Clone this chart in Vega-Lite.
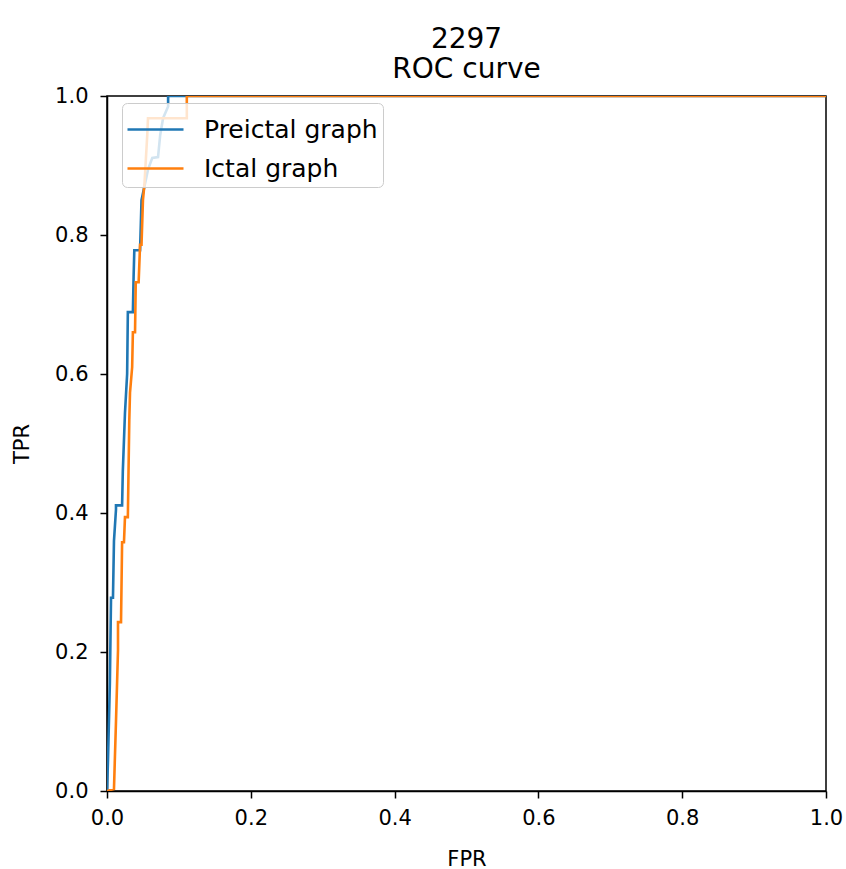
{
  "$schema": "https://vega.github.io/schema/vega-lite/v6.json",
  "width": 719,
  "height": 695,
  "autosize": {"type": "none"},
  "padding": {"left": 107, "top": 96, "right": 20, "bottom": 78},
  "background": "white",
  "title": {
    "text": ["2297", "ROC curve"],
    "fontSize": 28,
    "font": "DejaVu Sans",
    "fontWeight": "normal",
    "color": "black",
    "anchor": "middle",
    "offset": 1,
    "lineHeight": 30
  },
  "datasets": {
    "pre": [
      {"series": "Preictal graph", "fpr": 0, "tpr": 0},
      {"series": "Preictal graph", "fpr": 0.0014, "tpr": 0.045},
      {"series": "Preictal graph", "fpr": 0.004, "tpr": 0.155},
      {"series": "Preictal graph", "fpr": 0.0056, "tpr": 0.278},
      {"series": "Preictal graph", "fpr": 0.0083, "tpr": 0.278},
      {"series": "Preictal graph", "fpr": 0.0097, "tpr": 0.36},
      {"series": "Preictal graph", "fpr": 0.0125, "tpr": 0.405},
      {"series": "Preictal graph", "fpr": 0.0125, "tpr": 0.411},
      {"series": "Preictal graph", "fpr": 0.021, "tpr": 0.411},
      {"series": "Preictal graph", "fpr": 0.022, "tpr": 0.46},
      {"series": "Preictal graph", "fpr": 0.025, "tpr": 0.544},
      {"series": "Preictal graph", "fpr": 0.028, "tpr": 0.6},
      {"series": "Preictal graph", "fpr": 0.029, "tpr": 0.689},
      {"series": "Preictal graph", "fpr": 0.036, "tpr": 0.689},
      {"series": "Preictal graph", "fpr": 0.037, "tpr": 0.74},
      {"series": "Preictal graph", "fpr": 0.038, "tpr": 0.778},
      {"series": "Preictal graph", "fpr": 0.046, "tpr": 0.778},
      {"series": "Preictal graph", "fpr": 0.048, "tpr": 0.85},
      {"series": "Preictal graph", "fpr": 0.057, "tpr": 0.894},
      {"series": "Preictal graph", "fpr": 0.063, "tpr": 0.911},
      {"series": "Preictal graph", "fpr": 0.071, "tpr": 0.912},
      {"series": "Preictal graph", "fpr": 0.074, "tpr": 0.944},
      {"series": "Preictal graph", "fpr": 0.078, "tpr": 0.968},
      {"series": "Preictal graph", "fpr": 0.085, "tpr": 0.985},
      {"series": "Preictal graph", "fpr": 0.085, "tpr": 1.0},
      {"series": "Preictal graph", "fpr": 1.0, "tpr": 1.0}
    ],
    "ict": [
      {"series": "Ictal graph", "fpr": 0, "tpr": 0},
      {"series": "Ictal graph", "fpr": 0.0097, "tpr": 0.003},
      {"series": "Ictal graph", "fpr": 0.0125, "tpr": 0.1},
      {"series": "Ictal graph", "fpr": 0.0153, "tpr": 0.203},
      {"series": "Ictal graph", "fpr": 0.0153, "tpr": 0.243},
      {"series": "Ictal graph", "fpr": 0.0195, "tpr": 0.243},
      {"series": "Ictal graph", "fpr": 0.021, "tpr": 0.358},
      {"series": "Ictal graph", "fpr": 0.0236, "tpr": 0.358},
      {"series": "Ictal graph", "fpr": 0.025, "tpr": 0.394},
      {"series": "Ictal graph", "fpr": 0.029, "tpr": 0.394},
      {"series": "Ictal graph", "fpr": 0.031, "tpr": 0.534},
      {"series": "Ictal graph", "fpr": 0.032, "tpr": 0.573},
      {"series": "Ictal graph", "fpr": 0.035, "tpr": 0.61},
      {"series": "Ictal graph", "fpr": 0.036, "tpr": 0.66},
      {"series": "Ictal graph", "fpr": 0.039, "tpr": 0.66},
      {"series": "Ictal graph", "fpr": 0.04, "tpr": 0.732},
      {"series": "Ictal graph", "fpr": 0.044, "tpr": 0.732},
      {"series": "Ictal graph", "fpr": 0.046, "tpr": 0.786},
      {"series": "Ictal graph", "fpr": 0.048, "tpr": 0.786},
      {"series": "Ictal graph", "fpr": 0.05, "tpr": 0.85},
      {"series": "Ictal graph", "fpr": 0.052, "tpr": 0.872},
      {"series": "Ictal graph", "fpr": 0.054, "tpr": 0.908},
      {"series": "Ictal graph", "fpr": 0.056, "tpr": 0.944},
      {"series": "Ictal graph", "fpr": 0.057, "tpr": 0.968},
      {"series": "Ictal graph", "fpr": 0.111, "tpr": 0.968},
      {"series": "Ictal graph", "fpr": 0.111, "tpr": 1.0},
      {"series": "Ictal graph", "fpr": 1.0, "tpr": 1.0}
    ]
  },
  "layer": [
    {
      "data": {"name": "pre"},
      "mark": {"type": "line", "strokeWidth": 2.6, "clip": true, "interpolate": "linear"},
      "encoding": {
        "x": {"field": "fpr", "type": "quantitative"},
        "y": {"field": "tpr", "type": "quantitative"},
        "order": {"value": null},
        "color": {"field": "series", "type": "nominal"}
      }
    },
    {
      "data": {"name": "ict"},
      "mark": {"type": "line", "strokeWidth": 2.6, "clip": true, "interpolate": "linear"},
      "encoding": {
        "x": {"field": "fpr", "type": "quantitative"},
        "y": {"field": "tpr", "type": "quantitative"},
        "order": {"value": null},
        "color": {"field": "series", "type": "nominal"}
      }
    }
  ],
  "resolve": {"scale": {"color": "shared"}},
  "encoding": {
    "x": {
      "field": "fpr", "type": "quantitative", "title": "FPR",
      "scale": {"domain": [0, 1], "nice": false, "zero": false},
      "axis": {"values": [0, 0.2, 0.4, 0.6, 0.8, 1.0], "format": ".1f", "labelPadding": 9, "titlePadding": 20}
    },
    "y": {
      "field": "tpr", "type": "quantitative", "title": "TPR",
      "scale": {"domain": [0, 1], "nice": false, "zero": false},
      "axis": {"values": [0, 0.2, 0.4, 0.6, 0.8, 1.0], "format": ".1f", "labelPadding": 12, "titlePadding": 22}
    },
    "color": {
      "field": "series", "type": "nominal",
      "scale": {"domain": ["Preictal graph", "Ictal graph"], "range": ["#1f77b4", "#ff7f0e"]},
      "legend": {
        "title": null,
        "orient": "none",
        "legendX": 15,
        "legendY": 7,
        "symbolType": "M-1.4,0H1.4",
        "symbolSize": 1600,
        "symbolStrokeWidth": 2.6,
        "symbolFillColor": "transparent",
        "symbolOffset": 7,
        "labelFontSize": 25,
        "labelLimit": 500,
        "labelFont": "DejaVu Sans",
        "labelColor": "black",
        "labelOffset": 27,
        "rowPadding": 4,
        "padding": 5,
        "fillColor": "rgba(255,255,255,0.8)",
        "strokeColor": "#cccccc",
        "cornerRadius": 5
      }
    }
  },
  "config": {
    "font": "DejaVu Sans",
    "view": {"stroke": "black", "strokeWidth": 1.5},
    "axis": {
      "grid": false,
      "domainColor": "black",
      "domainWidth": 1.5,
      "tickColor": "black",
      "tickWidth": 1.5,
      "tickSize": 7,
      "labelFontSize": 21,
      "labelColor": "black",
      "labelFont": "DejaVu Sans",
      "titleFontSize": 21,
      "titleFont": "DejaVu Sans",
      "titleFontWeight": "normal",
      "titleColor": "black",
      "labelFlush": false
    }
  }
}
